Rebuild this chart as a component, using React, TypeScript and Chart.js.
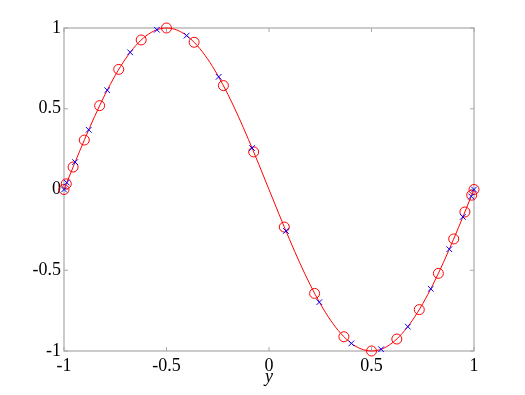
import React, { useEffect, useRef } from "react";
import { Chart, registerables } from "chart.js";

Chart.register(...registerables);

// Curve samples (x, y)
const curveX = [-1, -0.95, -0.9, -0.85, -0.8, -0.75, -0.7, -0.65, -0.6, -0.55, -0.5, -0.45, -0.4, -0.35, -0.3, -0.25, -0.2, -0.15, -0.1, -0.05, 0,
  0.05, 0.1, 0.15, 0.2, 0.25, 0.3, 0.35, 0.4, 0.45, 0.5, 0.55, 0.6, 0.65, 0.7, 0.75, 0.8, 0.85, 0.9, 0.95, 1];
const curveY = [0, 0.1564, 0.309, 0.454, 0.5878, 0.7071, 0.809, 0.891, 0.9511, 0.9877, 1, 0.9877, 0.9511, 0.891, 0.809, 0.7071, 0.5878, 0.454, 0.309, 0.1564, 0,
  -0.1564, -0.309, -0.454, -0.5878, -0.7071, -0.809, -0.891, -0.9511, -0.9877, -1, -0.9877, -0.9511, -0.891, -0.809, -0.7071, -0.5878, -0.454, -0.309, -0.1564, 0];

// Red circle markers
const circleX = [-1, -0.9888, -0.9556, -0.901, -0.8262, -0.7331, -0.6235, -0.5, -0.3653, -0.2225, -0.0747,
  0.0747, 0.2225, 0.3653, 0.5, 0.6235, 0.7331, 0.8262, 0.901, 0.9556, 0.9888, 1];
const circleY = [0, 0.0352, 0.1391, 0.306, 0.5193, 0.7438, 0.9259, 1, 0.9117, 0.6434, 0.2325,
  -0.2325, -0.6434, -0.9117, -1, -0.9259, -0.7438, -0.5193, -0.306, -0.1391, -0.0352, 0];

// Blue cross markers
const crossX = [-1, -0.9864, -0.9458, -0.8795, -0.7891, -0.6773, -0.5469, -0.4017, -0.2455, -0.0826,
  0.0826, 0.2455, 0.4017, 0.5469, 0.6773, 0.7891, 0.8795, 0.9458, 0.9864, 1];
const crossY = [0, 0.0427, 0.1695, 0.3696, 0.6152, 0.8493, 0.9892, 0.9528, 0.6975, 0.2566,
  -0.2566, -0.6975, -0.9528, -0.9892, -0.8493, -0.6152, -0.3696, -0.1695, -0.0427, 0];

const tickValues = [-1, -0.5, 0, 0.5, 1];
const tickLabels = ["-1", "-0.5", "0", "0.5", "1"];
const xAxisLabel = "y";

const FONT = "'Liberation Serif', 'DejaVu Serif', serif";

const zip = (xs: number[], ys: number[]) => xs.map((x, i) => ({ x, y: ys[i] }));

const labelFor = (v: number) => {
  const i = tickValues.findIndex((t) => Math.abs(t - v) < 1e-9);
  return i >= 0 ? tickLabels[i] : "";
};

const framePlugin = {
  id: "frame",
  beforeDatasetsDraw(chart: any) {
    const { ctx, chartArea, scales } = chart;
    const { left, right, top, bottom } = chartArea;
    ctx.save();
    ctx.strokeStyle = "#a8a8a8";
    ctx.lineWidth = 1.2;
    ctx.strokeRect(left, top, right - left, bottom - top);
    ctx.lineWidth = 1;
    const len = 4;
    tickValues.forEach((v) => {
      const px = scales.x.getPixelForValue(v);
      ctx.beginPath();
      ctx.moveTo(px, bottom);
      ctx.lineTo(px, bottom - len);
      ctx.moveTo(px, top);
      ctx.lineTo(px, top + len);
      ctx.stroke();
      const py = scales.y.getPixelForValue(v);
      ctx.beginPath();
      ctx.moveTo(left, py);
      ctx.lineTo(left + len, py);
      ctx.moveTo(right, py);
      ctx.lineTo(right - len, py);
      ctx.stroke();
    });
    ctx.restore();
  },
  afterDraw(chart: any) {
    const { ctx, chartArea } = chart;
    ctx.save();
    ctx.fillStyle = "#000";
    ctx.font = `italic 18px ${FONT}`;
    ctx.textAlign = "center";
    ctx.textBaseline = "alphabetic";
    ctx.fillText(xAxisLabel, (chartArea.left + chartArea.right) / 2, 382);
    ctx.restore();
  },
};

export default function App() {
  const ref = useRef<HTMLCanvasElement | null>(null);

  useEffect(() => {
    if (!ref.current) return;
    const chart = new Chart(ref.current, {
      type: "scatter",
      data: {
        datasets: [
          {
            label: "cross",
            data: zip(crossX, crossY),
            showLine: false,
            pointStyle: "crossRot",
            pointRadius: 4,
            borderColor: "#0000ff",
            backgroundColor: "#0000ff",
            pointBorderWidth: 1,
            clip: false,
          } as any,
          {
            label: "circle",
            data: zip(circleX, circleY),
            showLine: false,
            pointStyle: "circle",
            pointRadius: 5,
            borderColor: "#ff0000",
            backgroundColor: "rgba(0,0,0,0)",
            pointBorderWidth: 1,
            clip: false,
          } as any,
          {
            label: "curve",
            data: zip(curveX, curveY),
            showLine: true,
            pointRadius: 0,
            borderColor: "#ff0000",
            borderWidth: 1,
            cubicInterpolationMode: "monotone",
            clip: false,
          } as any,
        ],
      },
      options: {
        responsive: false,
        animation: false,
        events: [],
        layout: { padding: { left: 0, top: 28, right: 51, bottom: 0 } },
        plugins: { legend: { display: false }, tooltip: { enabled: false } },
        scales: {
          x: {
            type: "linear",
            min: -1,
            max: 1,
            afterBuildTicks: (s: any) => {
              s.ticks = tickValues.map((v) => ({ value: v }));
            },
            afterFit: (s: any) => {
              s.height = 44;
            },
            grid: { display: false, drawTicks: false },
            border: { display: false },
            ticks: {
              color: "#000",
              font: { family: FONT, size: 18 },
              padding: 4,
              maxRotation: 0,
              callback: (v: any) => labelFor(Number(v)),
            },
          },
          y: {
            type: "linear",
            min: -1,
            max: 1,
            afterBuildTicks: (s: any) => {
              s.ticks = tickValues.map((v) => ({ value: v }));
            },
            afterFit: (s: any) => {
              s.width = 64;
            },
            grid: { display: false, drawTicks: false },
            border: { display: false },
            ticks: {
              color: "#000",
              font: { family: FONT, size: 18 },
              padding: 3,
              callback: (v: any) => labelFor(Number(v)),
            },
          },
        },
      },
      plugins: [framePlugin],
    });
    return () => chart.destroy();
  }, []);

  return (
    <div style={{ position: "fixed", left: 0, top: 0, width: 525, height: 395, background: "#fff" }}>
      <canvas ref={ref} width={525} height={395} />
    </div>
  );
}
